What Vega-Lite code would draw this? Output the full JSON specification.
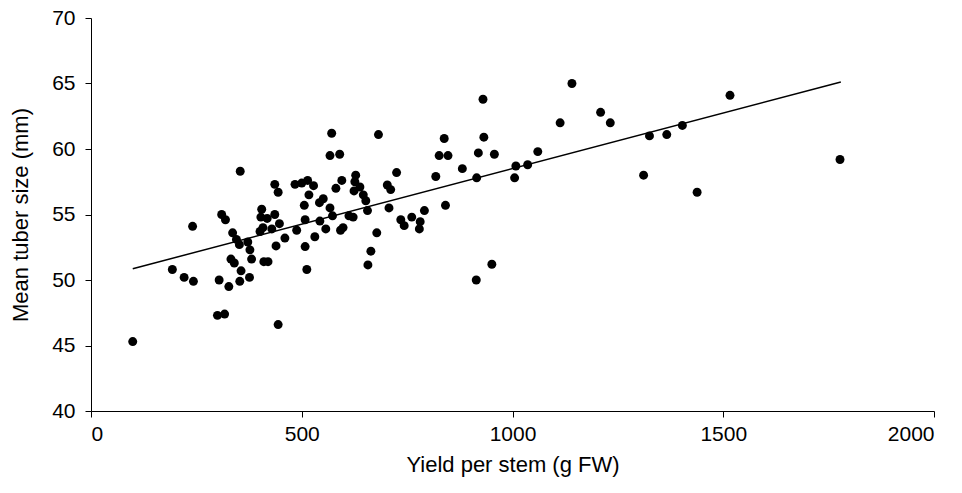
{
  "$schema": "https://vega.github.io/schema/vega-lite/v6.json",
  "width": 843,
  "height": 393,
  "autosize": {"type": "none"},
  "padding": {"left": 91, "top": 18, "right": 28, "bottom": 82},
  "background": "white",
  "config": {
    "view": {"stroke": null},
    "font": "Liberation Sans",
    "axis": {
      "grid": false,
      "domainColor": "black",
      "tickColor": "black",
      "labelColor": "black",
      "titleColor": "black",
      "labelFont": "Liberation Sans",
      "titleFont": "Liberation Sans",
      "labelFontSize": 21,
      "titleFontSize": 22,
      "titleFontWeight": "normal",
      "tickSize": 6,
      "domainWidth": 1,
      "tickWidth": 1
    }
  },
  "datasets": {
    "points": [
      {"yield": 99, "size": 45.3},
      {"yield": 193, "size": 50.8},
      {"yield": 221, "size": 50.2},
      {"yield": 243, "size": 49.9},
      {"yield": 241, "size": 54.1},
      {"yield": 300, "size": 47.3},
      {"yield": 317, "size": 47.4},
      {"yield": 304, "size": 50.0},
      {"yield": 327, "size": 49.5},
      {"yield": 310, "size": 55.0},
      {"yield": 319, "size": 54.6},
      {"yield": 353, "size": 49.9},
      {"yield": 376, "size": 50.2},
      {"yield": 354, "size": 58.3},
      {"yield": 336, "size": 53.6},
      {"yield": 345, "size": 53.1},
      {"yield": 352, "size": 52.7},
      {"yield": 372, "size": 52.9},
      {"yield": 377, "size": 52.3},
      {"yield": 381, "size": 51.6},
      {"yield": 332, "size": 51.6},
      {"yield": 340, "size": 51.3},
      {"yield": 356, "size": 50.7},
      {"yield": 410, "size": 51.4},
      {"yield": 420, "size": 51.4},
      {"yield": 405, "size": 55.4},
      {"yield": 403, "size": 54.8},
      {"yield": 418, "size": 54.7},
      {"yield": 436, "size": 55.0},
      {"yield": 447, "size": 54.3},
      {"yield": 429, "size": 53.9},
      {"yield": 401, "size": 53.7},
      {"yield": 408, "size": 54.0},
      {"yield": 460, "size": 53.2},
      {"yield": 439, "size": 52.6},
      {"yield": 444, "size": 46.6},
      {"yield": 436, "size": 57.3},
      {"yield": 444, "size": 56.7},
      {"yield": 484, "size": 57.3},
      {"yield": 500, "size": 57.4},
      {"yield": 514, "size": 57.6},
      {"yield": 528, "size": 57.2},
      {"yield": 517, "size": 56.5},
      {"yield": 506, "size": 55.7},
      {"yield": 542, "size": 55.9},
      {"yield": 551, "size": 56.2},
      {"yield": 567, "size": 55.5},
      {"yield": 573, "size": 54.9},
      {"yield": 581, "size": 57.0},
      {"yield": 595, "size": 57.6},
      {"yield": 571, "size": 61.2},
      {"yield": 567, "size": 59.5},
      {"yield": 590, "size": 59.6},
      {"yield": 682, "size": 61.1},
      {"yield": 628, "size": 58.0},
      {"yield": 626, "size": 57.5},
      {"yield": 638, "size": 57.1},
      {"yield": 624, "size": 56.8},
      {"yield": 646, "size": 56.5},
      {"yield": 652, "size": 56.05},
      {"yield": 656, "size": 55.3},
      {"yield": 612, "size": 54.9},
      {"yield": 622, "size": 54.8},
      {"yield": 598, "size": 54.0},
      {"yield": 592, "size": 53.8},
      {"yield": 557, "size": 53.9},
      {"yield": 543, "size": 54.5},
      {"yield": 508, "size": 54.6},
      {"yield": 488, "size": 53.8},
      {"yield": 531, "size": 53.3},
      {"yield": 508, "size": 52.55},
      {"yield": 512, "size": 50.8},
      {"yield": 678, "size": 53.6},
      {"yield": 664, "size": 52.2},
      {"yield": 657, "size": 51.15},
      {"yield": 703, "size": 57.25},
      {"yield": 711, "size": 56.9},
      {"yield": 725, "size": 58.2},
      {"yield": 707, "size": 55.5},
      {"yield": 735, "size": 54.6},
      {"yield": 743, "size": 54.15},
      {"yield": 761, "size": 54.8},
      {"yield": 781, "size": 54.45},
      {"yield": 779, "size": 53.9},
      {"yield": 791, "size": 55.3},
      {"yield": 818, "size": 57.9},
      {"yield": 826, "size": 59.5},
      {"yield": 847, "size": 59.5},
      {"yield": 838, "size": 60.8},
      {"yield": 841, "size": 55.7},
      {"yield": 881, "size": 58.5},
      {"yield": 915, "size": 57.8},
      {"yield": 919, "size": 59.7},
      {"yield": 957, "size": 59.6},
      {"yield": 932, "size": 60.9},
      {"yield": 930, "size": 63.8},
      {"yield": 914, "size": 50.0},
      {"yield": 951, "size": 51.2},
      {"yield": 1141, "size": 65.0},
      {"yield": 1113, "size": 62.0},
      {"yield": 1209, "size": 62.8},
      {"yield": 1232, "size": 62.0},
      {"yield": 1060, "size": 59.8},
      {"yield": 1008, "size": 58.7},
      {"yield": 1036, "size": 58.8},
      {"yield": 1005, "size": 57.8},
      {"yield": 1325, "size": 61.0},
      {"yield": 1366, "size": 61.1},
      {"yield": 1403, "size": 61.8},
      {"yield": 1311, "size": 58.0},
      {"yield": 1438, "size": 56.7},
      {"yield": 1516, "size": 64.1},
      {"yield": 1777, "size": 59.2}
    ],
    "trend": [
      {"yield": 99, "size": 50.86},
      {"yield": 1779, "size": 65.11}
    ]
  },
  "layer": [
    {
      "data": {"name": "trend"},
      "mark": {"type": "line", "color": "black", "strokeWidth": 1.5},
      "encoding": {
        "x": {"field": "yield", "type": "quantitative"},
        "y": {"field": "size", "type": "quantitative"}
      }
    },
    {
      "data": {"name": "points"},
      "mark": {"type": "point", "filled": true, "color": "black", "opacity": 1, "size": 80},
      "encoding": {
        "x": {
          "field": "yield",
          "type": "quantitative",
          "scale": {"domain": [0, 2000], "nice": false, "zero": false},
          "axis": {"values": [0, 500, 1000, 1500, 2000], "format": "d", "title": "Yield per stem (g FW)", "labelPadding": 6, "titlePadding": 10}
        },
        "y": {
          "field": "size",
          "type": "quantitative",
          "scale": {"domain": [40, 70], "nice": false, "zero": false},
          "axis": {"values": [40, 45, 50, 55, 60, 65, 70], "title": "Mean tuber size (mm)", "labelPadding": 10, "titlePadding": 19}
        }
      }
    }
  ]
}
